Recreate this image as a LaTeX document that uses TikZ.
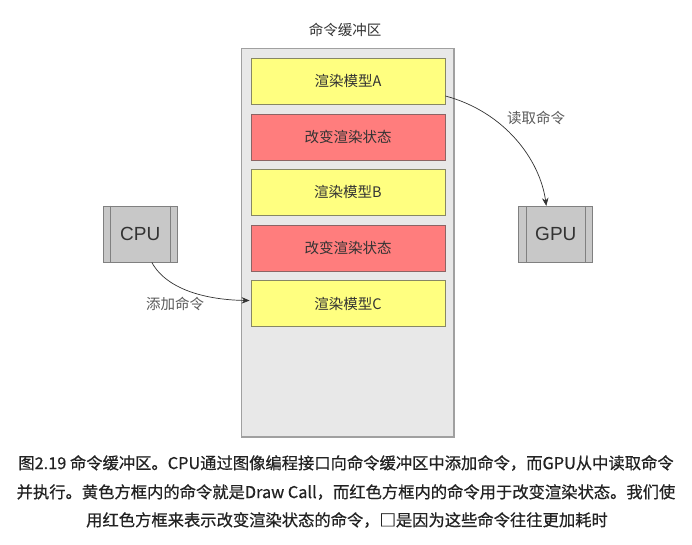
\documentclass[tikz,border=0pt]{standalone}
\usepackage{fontspec}
\setmainfont{Liberation Sans}
\newfontfamily\cjk{Noto Sans CJK SC}
\newfontfamily\cjkcap[FakeBold=0.6]{Noto Sans CJK SC}
\usetikzlibrary{arrows.meta,calc}
\definecolor{bufgray}{RGB}{232,232,232}
\definecolor{bufedge}{RGB}{160,160,160}
\definecolor{yel}{RGB}{255,255,128}
\definecolor{yeledge}{RGB}{135,135,100}
\definecolor{red}{RGB}{255,125,125}
\definecolor{rededge}{RGB}{140,100,100}
\definecolor{procfill}{RGB}{200,200,200}
\definecolor{procedge}{RGB}{128,128,128}
\definecolor{txt}{RGB}{51,51,51}
\definecolor{captxt}{RGB}{34,34,34}
\definecolor{lbl}{RGB}{90,90,90}
\tikzset{
  cmdbox/.style={draw, line width=0.8pt, minimum width=194pt, minimum height=46pt, inner sep=0pt,
    font=\cjk\fontsize{14.5}{16}\selectfont, text=txt},
  drawbox/.style={cmdbox, fill=yel, draw=yeledge},
  statebox/.style={cmdbox, fill=red, draw=rededge},
  procbox/.style={draw=procedge, fill=procfill, line width=0.8pt, minimum width=74pt, minimum height=56pt,
    inner sep=0pt, font=\fontsize{19}{22}\selectfont, text=txt},
  lab/.style={font=\cjk\fontsize{14.5}{16}\selectfont, text=lbl},
  caption/.style={font=\cjkcap\fontsize{16.3}{20}\selectfont, text=captxt, inner sep=0pt},
  conn/.style={draw=txt, line width=0.7pt, -{Stealth[length=8pt,width=6.5pt]}}
}
\begin{document}
\begin{tikzpicture}[x=1pt,y=-1pt]
\useasboundingbox (0,0) rectangle (692,545);
\fill[white] (0,0) rectangle (692,545);
% buffer
\draw[fill=bufgray, draw=bufedge, line width=1.2pt] (241.5,48.5) rectangle (454,437);
\node[lab, text=txt] (title) at (345,30) {命令缓冲区};
\node[drawbox]  (a)  at (348,81)  {渲染模型A};
\node[statebox] (s1) at (348,137) {改变渲染状态};
\node[drawbox]  (b)  at (348,192) {渲染模型B};
\node[statebox] (s2) at (348,248) {改变渲染状态};
\node[drawbox]  (c)  at (348,303.5) {渲染模型C};
% processors
\node[procbox] (cpu) at (140.3,234) {CPU};
\draw[procedge, line width=0.8pt] ($(cpu.north west)+(7,0)$) -- ($(cpu.south west)+(7,0)$);
\draw[procedge, line width=0.8pt] ($(cpu.north east)+(-7,0)$) -- ($(cpu.south east)+(-7,0)$);
\node[procbox] (gpu) at (555.8,234.3) {GPU};
\draw[procedge, line width=0.8pt] ($(gpu.north west)+(7.5,0)$) -- ($(gpu.south west)+(7.5,0)$);
\draw[procedge, line width=0.8pt] ($(gpu.north east)+(-7.5,0)$) -- ($(gpu.south east)+(-7.5,0)$);
% connectors
\draw[conn] ($(cpu.south)+(11.5,0)$) .. controls (168,292) and (212,300) .. ($(c.west)+(-1,-3)$);
\node[lab] (addlbl) at (175,304) {添加命令};
\draw[conn] ($(a.east)+(0,15)$) .. controls (505,112) and (540,160) .. ($(gpu.north)+(-9.5,0)$);
\node[lab] (readlbl) at (536,118) {读取命令};
% caption
\node[caption] (cap1) at (346,463) {图2.19 命令缓冲区。CPU通过图像编程接口向命令缓冲区中添加命令，而GPU从中读取命令};
\node[caption] (cap2) at (346,492) {并执行。黄色方框内的命令就是Draw Call，而红色方框内的命令用于改变渲染状态。我们使};
\node[caption] (cap3) at (347,520) {用红色方框来表示改变渲染状态的命令，□是因为这些命令往往更加耗时};
\end{tikzpicture}
\end{document}
